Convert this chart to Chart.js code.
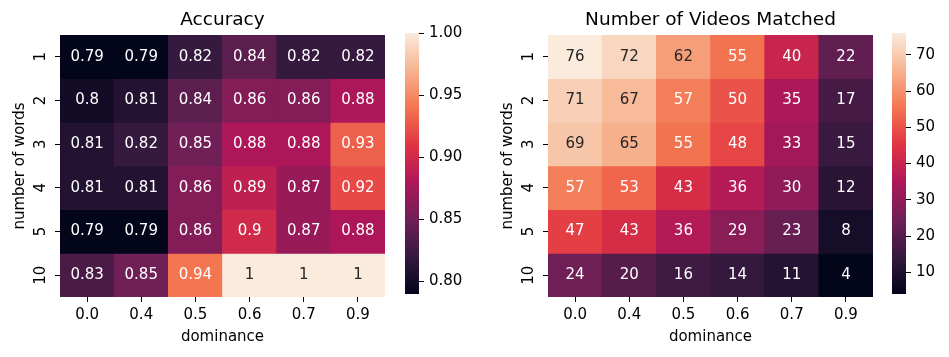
<!DOCTYPE html>
<html>
<head>
<meta charset="utf-8">
<script src="https://cdn.jsdelivr.net/npm/chart.js@4"></script>
<style>
  body { margin: 0; background: #fff; }
  #wrap { position: relative; width: 949px; height: 357px; }
  canvas { position: absolute; top: 0; }
</style>
</head>
<body>
<div id="wrap">
  <canvas id="acc" width="395" height="357" style="left:0px"></canvas>
  <canvas id="accBar" width="80" height="357" style="left:395px"></canvas>
  <canvas id="vid" width="395" height="357" style="left:488px"></canvas>
  <canvas id="vidBar" width="69" height="357" style="left:880px"></canvas>
</div>
<script>
// data
const rowLabels = ['1', '2', '3', '4', '5', '10'];
const dominance = ['0.0', '0.4', '0.5', '0.6', '0.7', '0.9'];
const accuracy = [
  [0.79, 0.79, 0.82, 0.84, 0.82, 0.82],
  [0.8, 0.81, 0.84, 0.86, 0.86, 0.88],
  [0.81, 0.82, 0.85, 0.88, 0.88, 0.93],
  [0.81, 0.81, 0.86, 0.89, 0.87, 0.92],
  [0.79, 0.79, 0.86, 0.9, 0.87, 0.88],
  [0.83, 0.85, 0.94, 1, 1, 1]
];
const videos = [
  [76, 72, 62, 55, 40, 22],
  [71, 67, 57, 50, 35, 17],
  [69, 65, 55, 48, 33, 15],
  [57, 53, 43, 36, 30, 12],
  [47, 43, 36, 29, 23, 8],
  [24, 20, 16, 14, 11, 4]
];
const accTicks = [0.80, 0.85, 0.90, 0.95, 1.00];
const vidTicks = [10, 20, 30, 40, 50, 60, 70];

Chart.defaults.font.family = "'DejaVu Sans', sans-serif";
Chart.defaults.color = '#000';

// seaborn "rocket" colormap, anchor colours
const rocketStops = [
  [0, [3, 5, 26]], [1 / 7, [53, 25, 62]], [2 / 7, [112, 31, 87]], [3 / 7, [173, 23, 89]],
  [4 / 7, [225, 51, 66]], [5 / 7, [243, 118, 81]], [6 / 7, [246, 180, 143]], [1, [250, 235, 221]]
];

function rocket(t) {
  t = Math.max(0, Math.min(1, t));
  for (let i = 1; i < rocketStops.length; i++) {
    const [t1, c1] = rocketStops[i];
    if (t <= t1) {
      const [t0, c0] = rocketStops[i - 1];
      const f = (t - t0) / (t1 - t0);
      return c0.map((v, k) => Math.round(v + (c1[k] - v) * f));
    }
  }
  return rocketStops[rocketStops.length - 1][1];
}
const rgb = c => `rgb(${c[0]},${c[1]},${c[2]})`;

function luminance(c) {
  const [r, g, b] = c.map(v => {
    v /= 255;
    return v <= 0.03928 ? v / 12.92 : Math.pow((v + 0.055) / 1.055, 2.4);
  });
  return 0.2126 * r + 0.7152 * g + 0.0722 * b;
}

// text in each cell + rotated row labels
const heatText = {
  id: 'heatText',
  afterDatasetsDraw(chart) {
    const ctx = chart.ctx;
    ctx.save();
    ctx.font = '15px "DejaVu Sans"';
    ctx.textAlign = 'center';
    ctx.textBaseline = 'middle';
    chart.data.datasets.forEach((ds, i) => {
      chart.getDatasetMeta(i).data.forEach((bar, j) => {
        ctx.fillStyle = luminance(ds.cellColors[j]) > 0.408 ? '#262626' : '#ffffff';
        ctx.fillText(String(ds.values[j]), bar.x, (bar.y + bar.base) / 2);
      });
    });
    const y = chart.scales.y;
    ctx.fillStyle = '#000';
    ctx.textBaseline = 'alphabetic';
    rowLabels.forEach((lab, i) => {
      ctx.save();
      ctx.translate(chart.chartArea.left - 15, y.getPixelForValue(i));
      ctx.rotate(-Math.PI / 2);
      ctx.fillText(lab, 0, 0);
      ctx.restore();
    });
    ctx.restore();
  }
};

function heatmap(id, title, values) {
  const flat = values.flat();
  const lo = Math.min(...flat), hi = Math.max(...flat);
  const datasets = values.map((row, i) => {
    const cols = row.map(v => rocket((v - lo) / (hi - lo)));
    return {
      data: row.map(() => [i - 0.5, i + 0.5]),
      values: row,
      cellColors: cols,
      backgroundColor: cols.map(rgb),
      borderWidth: 0,
      grouped: false,
      barPercentage: 1,
      categoryPercentage: 1
    };
  });
  return new Chart(document.getElementById(id), {
    type: 'bar',
    data: { labels: dominance, datasets: datasets },
    options: {
      responsive: false,
      animation: false,
      devicePixelRatio: 1,
      layout: { padding: { left: 0, right: 10, top: 0, bottom: 0 } },
      plugins: {
        legend: { display: false },
        tooltip: { enabled: false },
        title: {
          display: true, text: title, fullSize: false, color: '#000',
          font: { size: 18.5, weight: 'normal' },
          padding: { top: 9.5, bottom: 3.3 }
        }
      },
      scales: {
        x: {
          grid: { offset: false, drawOnChartArea: false, tickLength: 5, tickColor: '#000', tickWidth: 1 },
          border: { display: false },
          ticks: { font: { size: 15 }, padding: 4, maxRotation: 0, color: '#000' },
          title: { display: true, text: 'dominance', font: { size: 15 }, color: '#000', padding: { top: 0, bottom: 11 } },
          afterFit: s => { s.height = 60; }
        },
        y: {
          min: -0.5, max: 5.5, reverse: true,
          afterBuildTicks: s => { s.ticks = rowLabels.map((_, i) => ({ value: i })); },
          grid: { drawOnChartArea: false, tickLength: 5, tickColor: '#000', tickWidth: 1 },
          border: { display: false },
          ticks: { display: false },
          title: { display: true, text: 'number of words', font: { size: 15 }, color: '#000', padding: { top: 11, bottom: 0 } },
          afterFit: s => { s.width = 60; }
        }
      }
    },
    plugins: [heatText]
  });
}

function colorbar(id, values, ticks, fmt, padLeft) {
  const flat = values.flat();
  const lo = Math.min(...flat), hi = Math.max(...flat);
  const el = document.getElementById(id);
  return new Chart(el, {
    type: 'bar',
    data: {
      labels: [''],
      datasets: [{
        data: [[lo, hi]],
        backgroundColor: c => {
          const a = c.chart.chartArea;
          if (!a) return 'transparent';
          const g = c.chart.ctx.createLinearGradient(0, a.bottom, 0, a.top);
          rocketStops.forEach(([t, col]) => g.addColorStop(t, rgb(col)));
          return g;
        },
        borderWidth: 0,
        barPercentage: 1,
        categoryPercentage: 1
      }]
    },
    options: {
      responsive: false,
      animation: false,
      devicePixelRatio: 1,
      layout: { padding: { left: padLeft, right: 0, top: 33, bottom: 63 } },
      plugins: { legend: { display: false }, tooltip: { enabled: false } },
      scales: {
        x: { display: false },
        y: {
          position: 'right', min: lo, max: hi,
          afterBuildTicks: s => { s.ticks = ticks.map(v => ({ value: v })); },
          ticks: { callback: v => fmt(v), font: { size: 15 }, padding: 5, color: '#000' },
          grid: { drawOnChartArea: false, tickLength: 5, tickColor: '#000', tickWidth: 1 },
          border: { display: false },
          afterFit: s => { s.width = el.width - padLeft - 14; }
        }
      }
    }
  });
}

heatmap('acc', 'Accuracy', accuracy);
colorbar('accBar', accuracy, accTicks, v => v.toFixed(2), 10);
heatmap('vid', 'Number of Videos Matched', videos);
colorbar('vidBar', videos, vidTicks, v => String(v), 12);
</script>
</body>
</html>
